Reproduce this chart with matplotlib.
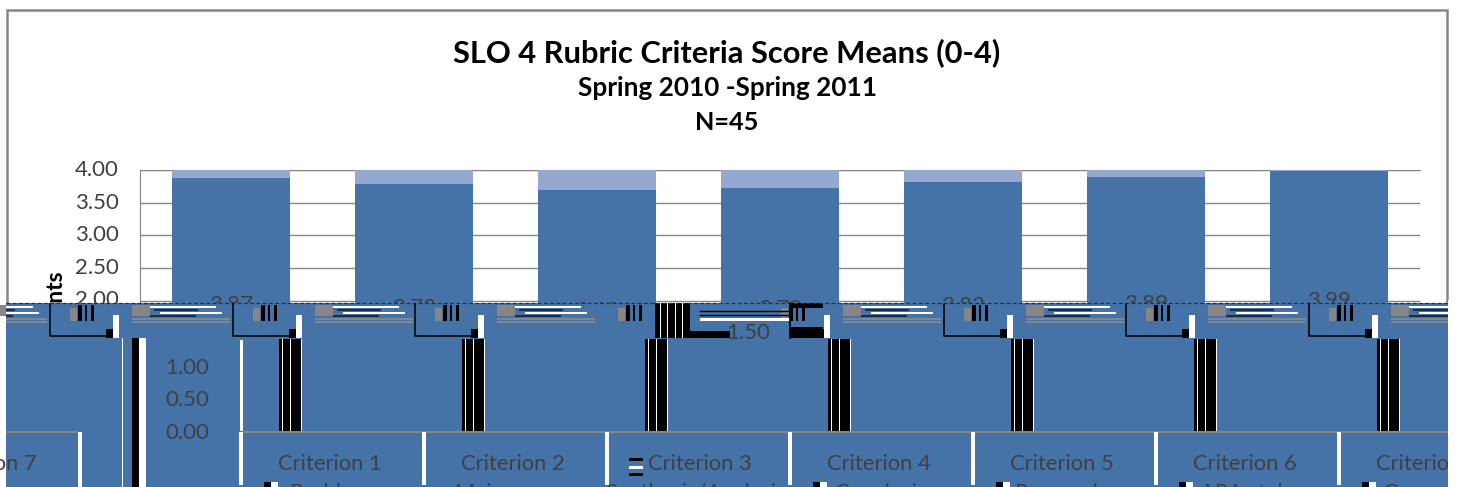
# SLO 4 rubric chart, the lower part of the source picture is garbled so it is redrawn too
import numpy as np
import matplotlib
matplotlib.use('Agg')
import matplotlib.pyplot as plt
from matplotlib.patches import Rectangle

categories = ['Criterion 1', 'Criterion 2', 'Criterion 3', 'Criterion 4',
              'Criterion 5', 'Criterion 6', 'Criterion 7']
means = [3.87, 3.78, 3.69, 3.73, 3.82, 3.89, 3.99]
rest = [0.13, 0.22, 0.31, 0.27, 0.18, 0.11, 0.01]
upper_ticks = [2.0, 2.5, 3.0, 3.5, 4.0]
lower_ticks = [0.0, 0.5, 1.0]
sub_labels = ['Problem', 'Major', 'Synthesis/Analysis', 'Conclusions',
              'Personal', 'APA style', 'Grammar']

BLUE = '#4572A7'
LIGHT = '#95A9D0'
GRAY = '#868686'
TXT = '#404040'
W, H = 1460, 487
plt.rcParams['font.family'] = ['Lato', 'DejaVu Sans']


def box(left, top, right, bottom):
    # pixel box to fig fractions
    return [left / W, 1 - bottom / H, (right - left) / W, (bottom - top) / H]


fig = plt.figure(figsize=(W / 100, H / 100), dpi=100, facecolor='white')

# real chart, only the top of it stays visible
ax = fig.add_axes(box(139.5, 170, 1420, 431), zorder=1)
x = np.arange(len(means))
ax.bar(x, means, width=0.645, color=BLUE, zorder=3)
ax.bar(x, rest, bottom=means, width=0.645, color=LIGHT, zorder=3)
ax.set_xlim(-0.5, 6.5)
ax.set_ylim(0, 4)
ax.set_yticks(upper_ticks)
ax.set_yticklabels(['%.2f' % t for t in upper_ticks], fontsize=16, color=TXT, va='center')
ax.tick_params(axis='y', length=0, pad=15)
ax.set_xticks([])
ax.grid(axis='y', color=GRAY, lw=1, zorder=0)
ax.set_axisbelow(True)
for s in ['right', 'bottom']:
    ax.spines[s].set_visible(False)
for s in ['left', 'top']:
    ax.spines[s].set_color(GRAY)
for i, m in enumerate(means):
    ax.text(i, m / 2, '%.2f' % m, ha='center', va='center', fontsize=16, color=TXT, zorder=4)

# pixel layer on top for the broken band
ov = fig.add_axes([0, 0, 1, 1], zorder=2)
ov.set_xlim(0, W)
ov.set_ylim(H, 0)
ov.axis('off')
ax.text(55, 269, 'Points', rotation=90, ha='center', va='top', fontsize=16.5, fontweight='bold',
        color='black', transform=ov.transData, clip_on=False)


def rect(left, top, right, bottom, color, z=2):
    left = max(left, 6)
    ov.add_patch(Rectangle((left, top), right - left, bottom - top, facecolor=color,
                           edgecolor='none', zorder=z))


# outer frame
ov.plot([7, 7, 1447, 1447], [302, 9.5, 9.5, 302], color=GRAY, lw=1.8, zorder=2, solid_joinstyle='miter')

fig.text(727 / W, 1 - 53 / H, 'SLO 4 Rubric Criteria Score Means (0-4)', ha='center', va='center',
         fontsize=22.2, fontweight='bold', color='black', zorder=3)
fig.text(727 / W, 1 - 88 / H, 'Spring 2010 -Spring 2011', ha='center', va='center',
         fontsize=18.8, fontweight='bold', color='black', zorder=3)
fig.text(727 / W, 1 - 123 / H, 'N=45', ha='center', va='center',
         fontsize=18.2, fontweight='bold', color='black', zorder=3)

rect(6, 303, 1448, 487, BLUE, 1)
ov.plot([6, 1448], [302.5, 302.5], color='#203050', lw=0.9, ls=(0, (3, 2)), zorder=3)

# repeated junk blocks, one per category, the ones after the 1.50 mess sit 20px to the left
for k in range(-1, 8):
    dx = 182.7 * k - (20 if k >= 4 else 0)
    if k not in (-1, 3, 4):
        ov.plot([50 + dx, 50 + dx, 107 + dx], [304, 336, 336], color='black', lw=1.1, zorder=3)
    if k != -1:
        rect(70 + dx, 308, 77 + dx, 321, GRAY)
        for a, b in [(78, 82), (85, 87), (91, 94)]:
            rect(a + dx, 305, b + dx, 321, 'black')
    if k != 3:
        rect(132 + dx, 305, 150 + dx, 316, GRAY)
        for a, b, y, c in [(150, 216, 306, 'white'), (154, 198, 309, '#1c2c48'),
                           (160, 222, 312, 'white'), (150, 196, 315, '#1c2c48'),
                           (132, 230, 318, GRAY), (132, 230, 321, GRAY)]:
            rect(a + dx, y, b + dx, y + 1.6, c)
    if k not in (-1, 3):
        rect(106 + dx, 329, 113 + dx, 338, 'black')
        rect(113 + dx, 315, 119 + dx, 338, 'white')

# black stripes between bars
for k in range(7):
    a = 279 + 183 * k
    rect(a, 339, a + 22, 431, 'black')
    for off in [2.5, 11, 21.5]:
        rect(a + off, 339, a + off + 1, 431, 'white', 3)

# left stripes
rect(122, 338, 123, 487, 'white')
rect(132, 338, 139, 487, 'black')
rect(139, 338, 146, 487, 'white')
rect(240, 340, 243, 431, 'white')

# mess round the 1.50 label
rect(655, 303, 690, 338, 'black')
for a in [660, 667, 675, 682]:
    rect(a, 303, a + 1.2, 338, 'white', 3)
rect(690, 331, 730, 338, 'black')
rect(790, 303, 823, 308, 'black')
rect(790, 327, 823, 338, 'black')
rect(700, 318, 790, 321, 'white', 3)
ov.plot([790, 790], [303, 338], color='black', lw=1.2, zorder=3)
ov.plot([700, 790], [311, 311], color='black', lw=1, zorder=3)
ov.plot([700, 790], [315, 315], color='black', lw=1, zorder=3)
ov.text(748, 333, '1.50', ha='center', va='center', fontsize=16, color=TXT, zorder=4)

# floor line and category cells
rect(243, 431, 1448, 433, GRAY)
rect(6, 431, 78, 433, GRAY)
rect(78, 432, 82, 487, 'white')
for k in range(7):
    a = 239 + 183 * k
    rect(a, 432, a + 4, 485, 'white', 3)
    cx = 330 + 183 * k + (4 if k == 2 else 0)
    ov.text(cx, 464, categories[k], ha='center', va='center', fontsize=15.8, color=TXT, zorder=4, clip_on=True)
    lx = cx - 66
    if k not in (1, 2):
        rect(lx, 482, lx + 14, 487, 'black', 3)
        rect(lx + 7, 482, lx + 14, 487, 'white', 3)
    tx = [290, 455, 605, 835, 1015, 1200, 1383][k]
    ov.text(tx, 483, sub_labels[k], ha='left', va='top', fontsize=15.8, color=TXT, zorder=4, clip_on=True)
# criterion 7 wrapped round to the left edge
ov.text(-15, 464, categories[6], ha='center', va='center', fontsize=15.8, color=TXT, zorder=4,
        clip_path=Rectangle((6, 300), 100, 187, transform=ov.transData))

# white right of the frame so the last cell is cut off
rect(1448, 300, W, H, 'white', 6)

# marker in front of criterion 3
for y in [458, 466, 473]:
    rect(629, y, 643, y + 3, 'black' if y != 466 else 'white', 3)

# lower tick labels sit on the blue
low = fig.add_axes(box(238, 338, 1419, 431), zorder=3)
low.patch.set_alpha(0)
low.set_ylim(0, 93 / 65)
low.set_xticks([])
low.set_yticks(lower_ticks)
low.set_yticklabels(['%.2f' % t for t in lower_ticks], fontsize=16, color=TXT)
low.tick_params(axis='y', length=0, pad=21)
for s in low.spines.values():
    s.set_visible(False)

plt.savefig('out.png', dpi=100)
